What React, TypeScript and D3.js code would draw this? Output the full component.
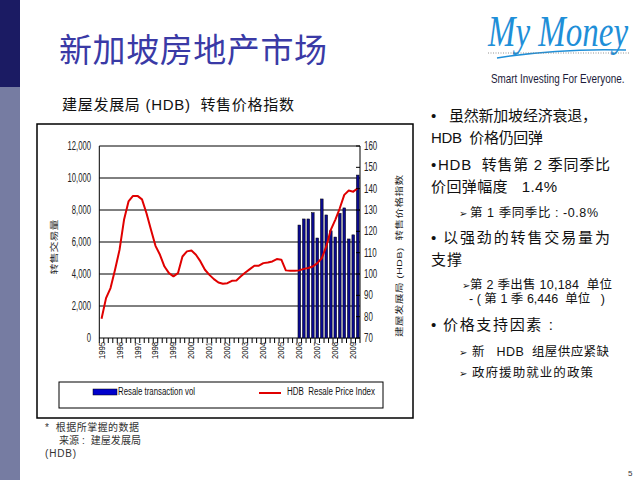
import * as d3 from 'd3';

const years = d3.range(1995, 2010);
const quarters = years.flatMap(y => ['Q1', 'Q2', 'Q3', 'Q4'].map(q => `${y}${q}`)).slice(0, 58);

// HDB resale price index, 1995Q1 - 2009Q2 (right axis)
const priceIndex = [
  79, 88.7, 93.4, 102, 111.3, 125.4, 134, 136.6, 136.6, 135,
  128.5, 120.7, 113.2, 109, 103.5, 100.4, 98.9, 100.4, 108.2, 110.6,
  111, 109, 105.9, 102, 99.6, 97.6, 96, 95.4, 95.7, 96.8,
  97, 98.9, 100.7, 102.3, 103.9, 103.9, 105.1, 105.4, 105.9, 107,
  106.7, 101.7, 101.5, 101.5, 101.7, 102.4, 102.8, 103.5, 105.1, 107.4,
  112.9, 120.7, 125.4, 130.8, 137.1, 139.1, 138.6, 140.2,
];

// resale transactions, 2006Q1 - 2009Q2 (left axis)
const volQuarters = quarters.slice(44);
const volume = [7060, 7440, 7440, 7830, 6250, 8690, 7690, 6700, 6310, 7790, 8130, 6190, 6446, 10184];

const leftTicks = [0, 2000, 4000, 6000, 8000, 10000, 12000];
const rightTicks = [70, 80, 90, 100, 110, 120, 130, 140, 150, 160];

const FONT = 'Liberation Sans, Noto Sans CJK SC, sans-serif';
const CJK = 'Noto Sans CJK SC, sans-serif';

export default function App() {
  const plot = { left: 99.3, right: 360, top: 146, bottom: 338 };

  const x = d3.scaleBand<string>()
    .domain(quarters)
    .range([plot.left, plot.right])
    .paddingInner(0.4)
    .paddingOuter(0.2);
  const step = x.step();
  const bw = x.bandwidth();
  const cx = (q: string) => (x(q) as number) + bw / 2;

  const yL = d3.scaleLinear().domain([0, 12000]).range([plot.bottom, plot.top]);
  const yR = d3.scaleLinear().domain([70, 160]).range([plot.bottom, plot.top]);

  const line = d3.line<number>()
    .x((_, i) => cx(quarters[i]))
    .y(d => yR(d));

  const tickXs = quarters.map(q => (x(q) as number) - (step - bw) / 2).concat([plot.right]);

  const bullets = [
    { t: '•', x: 431, y: 121, s: 15 },
    { t: '虽然新加坡经济衰退，', x: 449, y: 121, s: 15, len: 148 },
    { t: 'HDB  价格仍回弹', x: 431, y: 143, s: 15, len: 112 },
    { t: '•', x: 431, y: 170, s: 15 },
    { t: 'HDB  转售第 2 季同季比', x: 438, y: 170, s: 15, len: 172 },
    { t: '价回弹幅度   1.4%', x: 431, y: 192, s: 15, len: 126 },
    { t: '➢', x: 459, y: 217, s: 10 },
    { t: '第 1 季同季比 : -0.8%', x: 470, y: 217, s: 12.5, len: 128 },
    { t: '•', x: 431, y: 243, s: 15 },
    { t: '以强劲的转售交易量为', x: 443, y: 243, s: 15, len: 167 },
    { t: '支撑', x: 431, y: 265, s: 15, len: 31 },
    { t: '➢', x: 462, y: 289, s: 10 },
    { t: '第 2 季出售 10,184  单位', x: 470, y: 289, s: 12.5, len: 142 },
    { t: '- ( 第 1 季 6,446  单位   )', x: 469, y: 303, s: 12.5, len: 136 },
    { t: '•', x: 431, y: 330, s: 15 },
    { t: '价格支持因素 :', x: 443, y: 330, s: 15, len: 110 },
    { t: '➢', x: 459, y: 356, s: 10 },
    { t: '新   HDB  组屋供应紧缺', x: 472, y: 356, s: 12.5, len: 137 },
    { t: '➢', x: 459, y: 377, s: 10 },
    { t: '政府援助就业的政策', x: 472, y: 377, s: 12.5, len: 121 },
  ];

  return (
    <svg width={640} height={480} style={{ position: 'absolute', left: 0, top: 0, background: '#fff' }}>
      {/* side band */}
      <rect x={0} y={0} width={20} height={87} fill="#1b1b63" />
      <rect x={0} y={87} width={20} height={393} fill="#767ca2" />

      {/* title */}
      <text x={59} y={62} fontFamily={CJK} fontSize={33} fill="#3a3aa6" textLength={268} lengthAdjust="spacing">新加坡房地产市场</text>

      {/* logo */}
      <text transform="translate(488,46) scale(1,1.35)" fontFamily="Liberation Serif, serif" fontStyle="italic"
        fontSize={33} fill="#1f8fd8">My Money</text>
      <path d="M497,58 Q560,48 626,50" fill="none" stroke="#1f8fd8" strokeWidth={1.5} />
      <line x1={488} x2={630} y1={53} y2={53} stroke="#777" strokeWidth={0.8} strokeDasharray="1,1.5" />
      <text transform="translate(491,83) scale(1,1.2)" fontFamily={FONT} fontSize={9.9} fill="#1b1b3a">Smart Investing For Everyone.</text>

      {/* chart subtitle */}
      <text x={62} y={110} fontFamily={FONT} fontSize={15} fill="#111" textLength={232} lengthAdjust="spacing"
        style={{ whiteSpace: 'pre' }}>建屋发展局 (HDB)  转售价格指数</text>

      {/* chart box */}
      <rect x={37} y={124} width={376} height={294} fill="#fff" stroke="#000" strokeWidth={1.5} />

      {/* gridlines */}
      {leftTicks.map(t => (
        <line key={t} x1={plot.left} x2={plot.right} y1={yL(t)} y2={yL(t)} stroke="#000" strokeWidth={1} />
      ))}
      <line x1={plot.left} x2={plot.left} y1={plot.top} y2={plot.bottom} stroke="#000" />
      <line x1={plot.right} x2={plot.right} y1={plot.top} y2={plot.bottom} stroke="#000" />

      {/* bars */}
      {volQuarters.map((q, i) => (
        <rect key={q} x={x(q)} y={yL(volume[i])} width={bw} height={plot.bottom - yL(volume[i])}
          fill="#0a0a90" stroke="#000" strokeWidth={0.5} />
      ))}

      {/* price index line */}
      <path d={line(priceIndex) || ''} fill="none" stroke="#e00000" strokeWidth={2} strokeLinejoin="round" />

      {/* x ticks */}
      {tickXs.map((tx, i) => (
        <line key={i} x1={tx} x2={tx} y1={plot.bottom} y2={plot.bottom + 5} stroke="#000" />
      ))}
      {years.map(yr => {
        const px = cx(`${yr}Q1`);
        return (
          <text key={yr} transform={`translate(${px + 3},342) rotate(-90) scale(0.85,1)`} textAnchor="end"
            fontFamily={FONT} fontSize={9} fill="#111">{yr}</text>
        );
      })}

      {/* left axis labels */}
      {leftTicks.map(t => (
        <text key={t} transform={`translate(91,${yL(t) + 4}) scale(0.64,1)`} textAnchor="end"
          fontFamily={FONT} fontSize={12} fill="#222">{d3.format(',')(t)}</text>
      ))}
      {/* right axis */}
      {rightTicks.map(t => (
        <g key={t}>
          <line x1={plot.right - 4} x2={plot.right} y1={yR(t)} y2={yR(t)} stroke="#000" />
          <text transform={`translate(364,${yR(t) + 4}) scale(0.66,1)`} fontFamily={FONT} fontSize={12} fill="#222">{t}</text>
        </g>
      ))}

      {/* axis titles */}
      <text transform="translate(57,247) rotate(-90) scale(1,0.75)" textAnchor="middle" fontFamily={CJK} fontSize={11}
        fill="#222">转售交易量</text>
      <text transform="translate(402,256) rotate(-90) scale(1,0.75)" textAnchor="middle" fontFamily={FONT} fontSize={10.5}
        fill="#222" textLength={162} lengthAdjust="spacing" style={{ whiteSpace: 'pre' }}>建屋发展局 (HDB)  转售价格指数</text>

      {/* legend */}
      <rect x={59} y={382} width={324} height={26} fill="#fff" stroke="#000" strokeWidth={1} />
      <rect x={93} y={389} width={24} height={6} fill="#0000cc" stroke="#000" strokeWidth={0.5} />
      <text x={118} y={395} fontFamily={FONT} fontSize={10} fill="#111" textLength={77}
        lengthAdjust="spacingAndGlyphs">Resale transaction vol</text>
      <line x1={259} x2={281} y1={393} y2={393} stroke="#e00000" strokeWidth={2} />
      <text x={287} y={395} fontFamily={FONT} fontSize={10} fill="#111" textLength={88}
        lengthAdjust="spacingAndGlyphs" style={{ whiteSpace: 'pre' }}>HDB  Resale Price Index</text>

      {/* bullet text */}
      {bullets.map((b, i) => (
        <text key={i} x={b.x} y={b.y} fontFamily={FONT} fontSize={b.s} fill="#111"
          textLength={b.len} lengthAdjust={b.len ? 'spacing' : undefined} style={{ whiteSpace: 'pre' }}>{b.t}</text>
      ))}

      {/* footnotes */}
      <text x={45} y={431} fontFamily={FONT} fontSize={10} fill="#333" textLength={94} lengthAdjust="spacing"
        style={{ whiteSpace: 'pre' }}>*  根据所掌握的数据</text>
      <text x={59} y={444} fontFamily={FONT} fontSize={10} fill="#333" textLength={82} lengthAdjust="spacing"
        style={{ whiteSpace: 'pre' }}>来源 :  建屋发展局</text>
      <text x={45} y={457} fontFamily={FONT} fontSize={10} fill="#333" textLength={31} lengthAdjust="spacing">(HDB)</text>

      <text x={628} y={476} fontFamily={FONT} fontSize={8} fill="#333">5</text>
    </svg>
  );
}
